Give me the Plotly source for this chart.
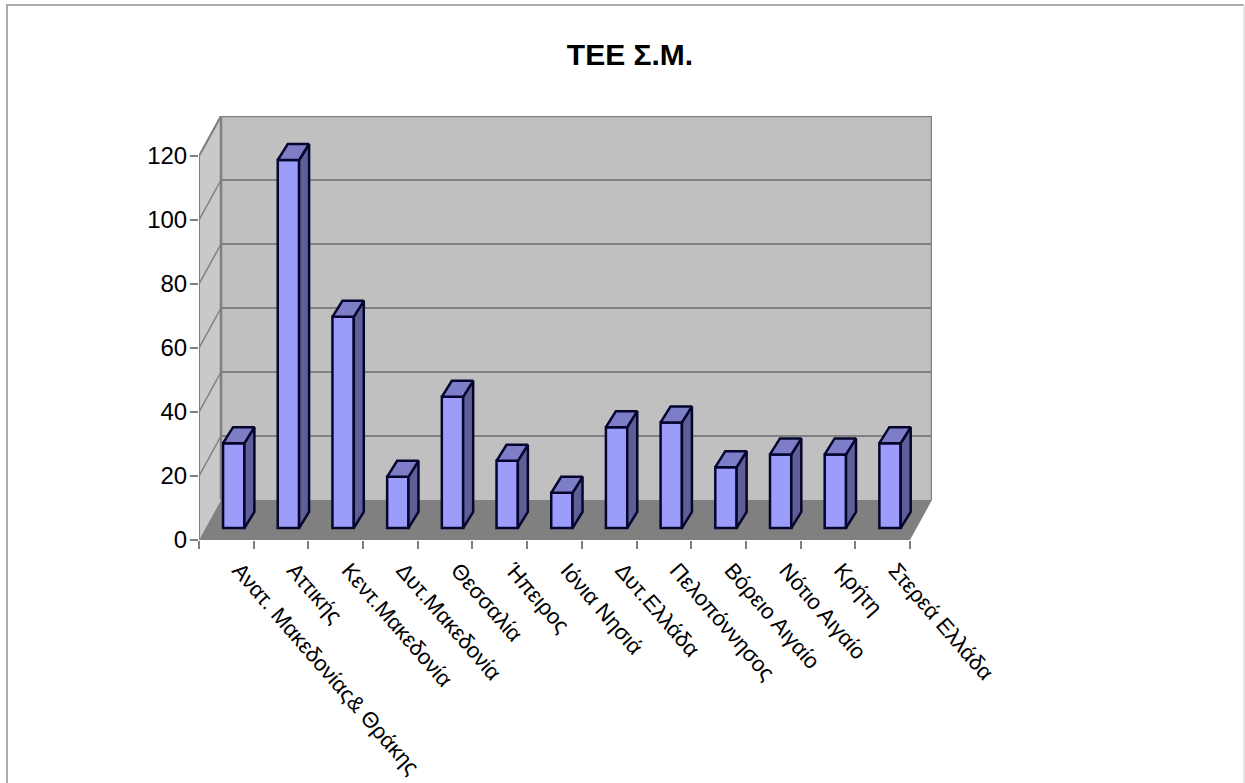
import plotly.graph_objects as go

title = "ΤΕΕ Σ.Μ."
categories = ["Ανατ. Μακεδονίας& Θράκης", "Αττικής", "Κεντ.Μακεδονία", "Δυτ.Μακεδονία",
              "Θεσσαλία", "Ήπειρος", "Ιόνια Νησιά", "Δυτ.Ελλάδα", "Πελοπόννησος",
              "Βόρειο Αιγαίο", "Νότιο Αιγαίο", "Κρήτη", "Στερεά Ελλάδα"]
values = [26.5, 115, 66, 16, 41, 21, 11, 31.5, 33, 19, 23, 23, 26.5]
y_ticks = [0, 20, 40, 60, 80, 100, 120]

W, H = 1245, 783
L, R, T, B = 199, 932, 116, 540
n = len(categories)
cat_px = (910 - 199) / n
val_px = 3.2
wall_dx = 22 / cat_px
wall_dy = 40 / val_px
x0, x1 = -0.5, n - 0.5
y_top = max(y_ticks)

bar_left = 0.44
bar_w = 0.39
bar_base = 12 / val_px
bar_dx = 10 / cat_px
bar_dy = 16 / val_px

FRONT, TOP, SIDE, EDGE = "#9C9CFA", "#7E7EC8", "#5F5F98", "#05052E"
WALL, SIDEWALL, FLOOR, GRID = "#C0C0C0", "#C9C9C9", "#808080", "#808080"


def poly(xs, ys, fill, line=None, width=0):
    return dict(type="path", layer="below", xref="x", yref="y",
                path="M" + " L".join(f"{a},{b}" for a, b in zip(xs, ys)) + " Z",
                fillcolor=fill, line=dict(color=line or fill, width=width))


def seg(xa, ya, xb, yb, width=2):
    return dict(type="line", layer="below", xref="x", yref="y", x0=xa, y0=ya, x1=xb, y1=yb,
                line=dict(color=GRID, width=width))


def frame(pts, color):
    px = [f"{(a - L) / (R - L)},{(B - b) / (B - T)}" for a, b in pts]
    return dict(type="path", xref="paper", yref="paper", layer="below",
                path="M" + " L".join(px), line=dict(color=color, width=2))


shapes = [
    poly([x0, x0 + wall_dx, x0 + wall_dx, x0], [0, wall_dy, y_top + wall_dy, y_top], SIDEWALL),
    poly([x0 + wall_dx, x1 + wall_dx, x1 + wall_dx, x0 + wall_dx],
         [wall_dy, wall_dy, y_top + wall_dy, y_top + wall_dy], WALL),
    poly([x0, x1, x1 + wall_dx, x0 + wall_dx], [0, 0, wall_dy, wall_dy], FLOOR),
]
for t in y_ticks[1:]:
    shapes.append(seg(x0 + wall_dx, t + wall_dy, x1 + wall_dx, t + wall_dy, 2))
    shapes.append(seg(x0, t, x0 + wall_dx, t + wall_dy, 1.5))
shapes += [
    seg(x0, 0, x0, y_top, 2),
    seg(x0 + wall_dx, wall_dy, x0 + wall_dx, y_top + wall_dy, 2.5),
    seg(x1 + wall_dx, wall_dy, x1 + wall_dx, y_top + wall_dy, 2.5),
    seg(x0 + wall_dx, y_top + wall_dy, x1 + wall_dx, y_top + wall_dy, 2.5),
    seg(x0, y_top, x0 + wall_dx, y_top + wall_dy, 2),
    seg(x0, 0, x1, 0, 2),
]
# outer page frame
shapes.append(frame([(7, H), (7, 5), (W - 1, 5)], "#ABABAB"))
shapes.append(frame([(W - 1, 5), (W - 1, H)], "#E6E6E6"))

fig = go.Figure()
x_pos = list(range(n))
fig.add_trace(go.Bar(
    x=x_pos, y=values, base=bar_base, width=bar_w, offset=-0.5 + bar_left,
    marker=dict(color=FRONT, line=dict(color=EDGE, width=2.5)), showlegend=False,
))
for i, v in enumerate(values):
    a = i - 0.5 + bar_left
    b = a + bar_w
    bot = bar_base
    top = bar_base + v
    fig.add_trace(go.Scatter(
        x=[b, b + bar_dx, b + bar_dx, b, b], y=[bot, bot + bar_dy, top + bar_dy, top, bot],
        mode="lines", fill="toself", fillcolor=SIDE, line=dict(color=EDGE, width=2.5),
        showlegend=False, hoverinfo="skip"))
    fig.add_trace(go.Scatter(
        x=[a, b, b + bar_dx, a + bar_dx, a], y=[top, top, top + bar_dy, top + bar_dy, top],
        mode="lines", fill="toself", fillcolor=TOP, line=dict(color=EDGE, width=2.5),
        showlegend=False, hoverinfo="skip"))

fig.update_layout(
    width=W, height=H, autosize=False,
    margin=dict(l=L, r=W - R, t=T, b=H - B, pad=0),
    paper_bgcolor="white", plot_bgcolor="white",
    font=dict(family="Liberation Sans, Arial, sans-serif", color="black"),
    title=dict(text=f"<b>{title}</b>", x=630 / W, xanchor="center", y=1 - 54 / H, yanchor="middle",
               font=dict(size=30, color="black")),
    xaxis=dict(range=[x0, x1 + wall_dx], tickmode="array", tickvals=x_pos, ticktext=categories,
               tickangle=49, ticks="", showgrid=False, zeroline=False, showline=False,
               tickfont=dict(size=22), automargin=False, ticklabelshift=13, ticklabelstandoff=12,
               minor=dict(tickmode="array", tickvals=[i - 0.5 for i in range(n + 1)], ticks="outside",
                          ticklen=8, tickcolor=GRID, tickwidth=1.5, showgrid=False)),
    yaxis=dict(range=[0, y_top + wall_dy], tickmode="array", tickvals=y_ticks,
               ticks="outside", ticklen=8, tickcolor=GRID, tickwidth=1.5, showgrid=False,
               zeroline=False, showline=False, tickfont=dict(size=24), automargin=False,
               ticklabelstandoff=-2),
    shapes=shapes, showlegend=False,
)
fig.write_html("out.html", config=dict(displayModeBar=False),
               post_script="document.body.style.margin='0';document.body.style.overflow='hidden';")
